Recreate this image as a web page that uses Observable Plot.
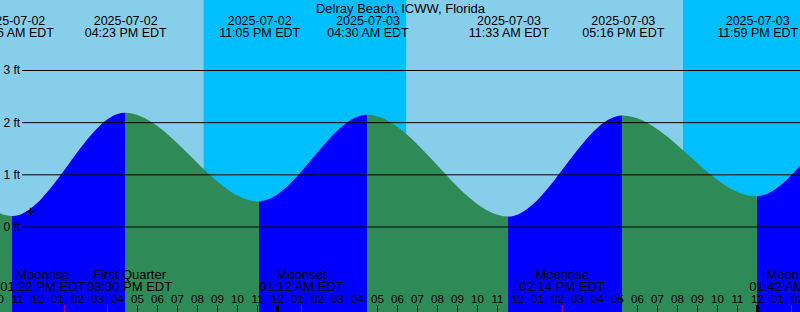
<!DOCTYPE html>
<html>
<head>
<meta charset="utf-8">
<script src="https://cdn.jsdelivr.net/npm/d3@7"></script>
<script src="https://cdn.jsdelivr.net/npm/@observablehq/plot@0.6"></script>
<style>
html, body { margin: 0; padding: 0; background: #fff; overflow: hidden; }
#chart svg { display: block; overflow: hidden; }
</style>
</head>
<body>
<div id="chart"></div>
<script>
// ---------- data (local EDT clock times) ----------
const chartTitle = "Delray Beach, ICWW, Florida";
const viewStart = "2025-07-02 10:09";
const viewEnd = "2025-07-04 02:09";

// tide extremes (first and last two lie outside the visible window)
const tideTimes = [
  "2025-07-01 22:20", "2025-07-02 04:35", "2025-07-02 10:46", "2025-07-02 16:23",
  "2025-07-02 23:05", "2025-07-03 04:30", "2025-07-03 11:33", "2025-07-03 17:16",
  "2025-07-03 23:59", "2025-07-04 05:10", "2025-07-04 11:50"
];
const tideHeights = [0.45, 2.10, 0.20, 2.18, 0.48, 2.14, 0.19, 2.13, 0.58, 2.12, 0.22];

const sunEventTimes = ["2025-07-02 20:19", "2025-07-03 06:29", "2025-07-03 20:17"];
const sunEventKinds = ["Sunset", "Sunrise", "Sunset"];

const moonEventTimes = ["2025-07-02 13:22", "2025-07-02 15:30", "2025-07-03 01:12", "2025-07-03 14:14", "2025-07-04 01:42"];
const moonEventNames = ["Moonrise", "First Quarter", "Moonset", "Moonrise", "Moonset"];

const levelValues = [0, 1, 2, 3];
const levelLabels = ["0 ft", "1 ft", "2 ft", "3 ft"];

const nowTime = "2025-07-02 11:39";
const nowHeight = 0.29;

const heightDomain = [-1.639, 4.342];

// ---------- build tables ----------
const parse = d3.utcParse("%Y-%m-%d %H:%M");
const fmtDate = d3.utcFormat("%Y-%m-%d");
const fmtTime = d => d3.utcFormat("%I:%M %p")(d) + " EDT";
const fmtHour = d3.utcFormat("%I");

const t0 = parse(viewStart), t1 = parse(viewEnd);
const tides = tideTimes.map((t, i) => ({time: parse(t), height: tideHeights[i]}));
const moon = moonEventTimes.map((t, i) => ({time: parse(t), name: moonEventNames[i]}));
const sunTimes = sunEventTimes.map(parse);

const bounds = [t0, ...sunTimes, t1];
const skyBands = [];
for (let i = 0; i < bounds.length - 1; i++) {
  const night = i > 0 && sunEventKinds[i - 1] === "Sunset";
  skyBands.push({start: bounds[i], end: bounds[i + 1], color: night ? "#00BFFF" : "#87CEEB"});
}

const hours = d3.utcHour.range(d3.utcHour.floor(t0), t1);
const midnights = d3.utcDay.range(t0, t1);

const plusSymbol = {
  draw(ctx, size) {
    const r = Math.sqrt(size / Math.PI);
    ctx.moveTo(-r, 0); ctx.lineTo(r, 0);
    ctx.moveTo(0, -r); ctx.lineTo(0, r);
  }
};

const FONT = "'Liberation Sans', Arial, Helvetica, sans-serif";

const chart = Plot.plot({
  width: 800,
  height: 312,
  margin: 0,
  style: {fontFamily: FONT, fontSize: "13px", background: "#fff", color: "black"},
  x: {type: "utc", domain: [t0, t1], axis: null},
  y: {domain: heightDomain, axis: null},
  color: {type: "identity"},
  marks: [
    Plot.rect(skyBands, {x1: "start", x2: "end", fill: "color"}),
    Plot.areaY(tides, {x: "time", y1: heightDomain[0], y2: "height", curve: "monotone-x", fill: "url(#tideFill)", clip: true}),
    Plot.ruleY(levelValues, {y: d => d, insetLeft: 22, stroke: "black", strokeWidth: 1}),
    Plot.text(levelValues, {y: d => d, text: (d, i) => levelLabels[i], frameAnchor: "left", textAnchor: "start", dx: 3, fontSize: 12, fill: "black"}),
    Plot.text([chartTitle], {text: d => d, frameAnchor: "top", lineAnchor: "bottom", dy: 12, fontSize: 13, fill: "black"}),
    Plot.text(tides, {x: "time", text: d => fmtDate(d.time) + "\n" + fmtTime(d.time), frameAnchor: "top", lineAnchor: "bottom", dy: 36, dx: 0.5, lineHeight: 12 / 12.5, fontSize: 12.5, fill: "black"}),
    Plot.text(moon, {filter: (d, i) => i === 0, x: "time", text: d => d.name + "\n" + fmtTime(d.time), frameAnchor: "bottom", lineAnchor: "bottom", dy: -22, dx: -22, lineHeight: 12 / 13, fontSize: 13, fill: "black"}),
    Plot.text(moon, {filter: (d, i) => i === 1, x: "time", text: d => d.name + "\n" + fmtTime(d.time), frameAnchor: "bottom", lineAnchor: "bottom", dy: -22, dx: 22, lineHeight: 12 / 13, fontSize: 13, fill: "black"}),
    Plot.text(moon, {filter: (d, i) => i > 1, x: "time", text: d => d.name + "\n" + fmtTime(d.time), frameAnchor: "bottom", lineAnchor: "bottom", dy: -22, lineHeight: 12 / 13, fontSize: 13, fill: "black"}),
    Plot.text(hours, {x: d => d, text: d => fmtHour(d), frameAnchor: "bottom", lineAnchor: "bottom", dy: -10, fontSize: 11.5, fill: "black"}),
    Plot.ruleX(hours, {x: d => d, insetTop: 305, stroke: "black", strokeWidth: 1}),
    Plot.ruleX(midnights, {x: d => d, insetTop: 305, stroke: "black", strokeWidth: 3}),
    Plot.ruleX(moon, {x: "time", insetTop: 305, stroke: "#FF0000", strokeWidth: 1}),
    Plot.dot([{time: parse(nowTime), height: nowHeight}], {x: "time", y: "height", symbol: plusSymbol, r: 4, stroke: "black", strokeWidth: 1.5, fill: "none"})
  ]
});

// rising (flood) / falling (ebb) fill, split at each tide extreme via the x scale
const xs = chart.scale("x");
const px = tides.map(d => xs.apply(d.time));
const gx0 = px[0], gx1 = px[px.length - 1];
const defs = d3.select(chart).insert("defs", ":first-child");
const grad = defs.append("linearGradient")
  .attr("id", "tideFill")
  .attr("gradientUnits", "userSpaceOnUse")
  .attr("x1", gx0).attr("x2", gx1).attr("y1", 0).attr("y2", 0);
for (let i = 0; i < tides.length - 1; i++) {
  const c = tides[i + 1].height > tides[i].height ? "#0000FF" : "#2E8B57";
  grad.append("stop").attr("offset", (px[i] - gx0) / (gx1 - gx0)).attr("stop-color", c);
  grad.append("stop").attr("offset", (px[i + 1] - gx0) / (gx1 - gx0)).attr("stop-color", c);
}

document.getElementById("chart").appendChild(chart);
</script>
</body>
</html>
